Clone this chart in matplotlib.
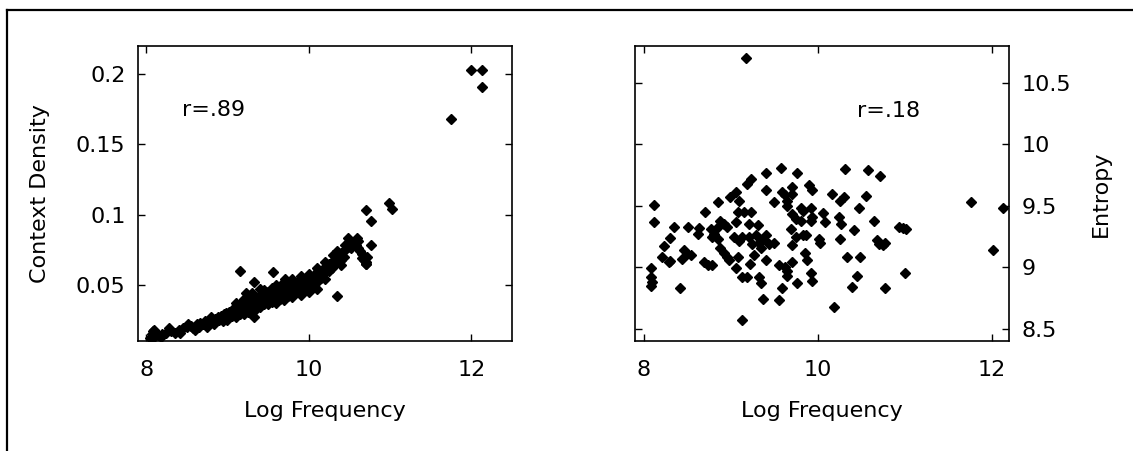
import matplotlib
matplotlib.use("Agg")
import matplotlib.pyplot as plt
from matplotlib.lines import Line2D

# left panel: log frequency vs context density
density_freq = [
    8.05, 8.07, 8.08, 8.10, 8.12, 8.15, 8.20, 8.25, 8.30, 8.35, 8.40, 8.45, 8.50, 8.55,
    8.58, 8.62, 8.66, 8.70, 8.73, 8.77, 8.80, 8.83, 8.85, 8.88, 8.90, 8.92, 8.94, 8.96,
    8.98, 9.00, 9.02, 9.04, 9.06, 9.08, 9.10, 9.12, 9.14, 9.16, 9.18, 9.20, 9.22, 9.24,
    9.26, 9.28, 9.30, 9.32, 9.34, 9.36, 9.38, 9.40, 9.42, 9.44, 9.46, 9.48, 9.50, 9.52,
    9.54, 9.56, 9.58, 9.60, 9.62, 9.64, 9.66, 9.68, 9.70, 9.72, 9.74, 9.76, 9.78, 9.80,
    9.82, 9.84, 9.86, 9.88, 9.90, 9.92, 9.94, 9.96, 9.98, 10.00, 10.02, 10.05, 10.08,
    10.10, 10.12, 10.15, 10.18, 10.20, 10.22, 10.25, 10.28, 10.30, 10.33, 10.35, 10.38,
    10.40, 10.43, 10.45, 10.48, 10.50, 10.52, 10.55, 10.58, 10.60, 10.63, 10.65, 10.68,
    10.70, 10.72,
    8.60, 8.75, 8.95, 9.05, 9.15, 9.25, 9.35, 9.45, 9.50, 9.55, 9.60, 9.65, 9.70, 9.75,
    9.80, 9.85, 9.90, 9.95, 10.00, 10.05, 10.10, 9.45, 9.55, 9.60, 9.70, 9.80, 9.90,
    10.00, 10.10, 10.20, 10.30, 10.35, 9.30, 9.40, 9.20, 10.25, 10.40, 10.15,
    9.00, 9.10, 9.20, 9.30, 9.40, 9.50, 9.60, 9.70, 9.80, 9.90, 10.00, 10.10, 10.20,
    9.10, 9.20, 9.30, 9.40, 9.50, 9.60, 9.70, 9.80, 9.90, 10.00, 10.10, 10.20, 10.30,
    10.40, 10.45, 10.60, 10.65, 10.70, 9.33, 9.71, 9.23, 8.10, 8.18, 8.28, 8.42, 8.52,
    8.65, 8.80,
    12.00, 12.13, 12.13, 11.75, 10.70, 10.77, 10.99, 11.02, 10.77, 10.70, 10.48, 10.59,
    9.16, 9.56, 10.35, 9.33,
]
density = [
    0.012, 0.015, 0.017, 0.013, 0.016, 0.014, 0.015, 0.016, 0.017, 0.016, 0.018, 0.019,
    0.020, 0.021, 0.019, 0.022, 0.023, 0.022, 0.024, 0.023, 0.025, 0.022, 0.026, 0.027,
    0.025, 0.028, 0.026, 0.029, 0.030, 0.027, 0.031, 0.029, 0.032, 0.030, 0.033, 0.031,
    0.034, 0.032, 0.035, 0.033, 0.036, 0.034, 0.037, 0.035, 0.038, 0.036, 0.039, 0.037,
    0.040, 0.035, 0.041, 0.038, 0.042, 0.039, 0.043, 0.040, 0.044, 0.041, 0.045, 0.042,
    0.046, 0.043, 0.047, 0.044, 0.048, 0.045, 0.049, 0.046, 0.050, 0.047, 0.051, 0.048,
    0.052, 0.049, 0.053, 0.050, 0.054, 0.051, 0.055, 0.052, 0.056, 0.054, 0.058, 0.056,
    0.060, 0.058, 0.061, 0.059, 0.063, 0.065, 0.062, 0.067, 0.069, 0.066, 0.071, 0.073,
    0.070, 0.075, 0.077, 0.079, 0.076, 0.080, 0.078, 0.076, 0.074, 0.072, 0.068, 0.065,
    0.070,
    0.018, 0.020, 0.024, 0.028, 0.029, 0.031, 0.033, 0.036, 0.037, 0.038, 0.039, 0.040,
    0.041, 0.042, 0.044, 0.045, 0.046, 0.048, 0.049, 0.050, 0.052, 0.046, 0.048, 0.050,
    0.052, 0.054, 0.056, 0.058, 0.062, 0.066, 0.071, 0.074, 0.044, 0.047, 0.040, 0.060,
    0.064, 0.055,
    0.025, 0.027, 0.029, 0.032, 0.034, 0.036, 0.037, 0.039, 0.041, 0.043, 0.045, 0.047,
    0.054, 0.037, 0.039, 0.041, 0.043, 0.045, 0.047, 0.050, 0.052, 0.054, 0.055, 0.058,
    0.062, 0.064, 0.068, 0.078, 0.081, 0.069, 0.066, 0.052, 0.054, 0.044, 0.018, 0.013,
    0.019, 0.016, 0.022, 0.020, 0.027,
    0.203, 0.203, 0.191, 0.168, 0.103, 0.0955, 0.108, 0.104, 0.078, 0.065, 0.083, 0.083,
    0.060, 0.059, 0.042, 0.027,
]

# right panel: log frequency vs entropy
entropy_freq = [
    8.115, 8.115, 8.085, 8.085, 8.10, 8.08, 8.35, 8.23, 8.30, 8.21, 8.30, 8.415, 8.51,
    8.46, 8.50, 8.54, 8.44, 8.63, 8.62, 8.71, 8.69, 8.74, 8.79, 8.77, 8.81, 8.85, 8.88,
    8.92, 8.96, 8.85, 8.79, 8.85, 8.88, 8.92, 8.96, 8.98, 8.99, 9.06, 9.10, 9.06, 9.06,
    9.08, 9.04, 9.10, 9.13, 9.15, 9.23, 9.13, 9.19, 9.13, 9.19, 9.23, 9.21, 9.25, 9.29,
    9.31, 9.33, 9.37, 9.40, 9.44, 9.50, 9.35, 9.22, 9.33, 9.35, 9.27, 9.37, 9.40, 9.40,
    9.40, 9.50, 9.56, 9.62, 9.65, 9.71, 9.59, 9.56, 9.58, 9.59, 9.65, 9.71, 9.71, 9.65,
    9.71, 9.75, 9.69, 9.65, 9.71, 9.75, 9.83, 9.87, 9.76, 9.76, 9.81, 9.83, 9.81, 9.85,
    9.88, 9.90, 9.94, 9.92, 9.94, 9.92, 9.92, 9.93, 10.02, 10.03, 10.06, 10.08, 10.16,
    10.19, 10.26, 10.30, 10.25, 10.27, 10.26, 10.31, 10.34, 10.42, 10.40, 10.45, 10.47,
    10.49, 10.56, 10.58, 10.65, 10.68, 10.71, 10.75, 10.77, 10.72, 10.77, 10.94, 10.98,
    11.02, 11.00, 11.76, 12.02, 12.13, 9.17, 8.29, 9.21, 9.08, 9.62,
]
entropy = [
    9.51, 9.365, 8.99, 8.92, 8.88, 8.85, 9.33, 9.17, 9.24, 9.08, 9.05, 8.83, 9.33, 9.14,
    9.11, 9.10, 9.07, 9.32, 9.27, 9.45, 9.04, 9.02, 9.02, 9.31, 9.27, 9.33, 9.38, 9.35,
    9.33, 9.23, 9.25, 9.53, 9.16, 9.12, 9.08, 9.06, 9.57, 9.61, 9.54, 9.37, 8.99, 9.08,
    9.25, 9.21, 9.25, 9.45, 9.45, 8.92, 8.92, 8.57, 9.68, 9.72, 9.25, 9.19, 9.26, 9.34,
    9.20, 9.23, 9.26, 9.19, 9.20, 9.16, 9.03, 8.92, 8.87, 9.10, 8.74, 9.77, 9.63, 9.06,
    9.53, 9.02, 9.00, 8.97, 9.04, 8.83, 8.73, 9.81, 9.61, 9.54, 9.65, 9.60, 9.50, 9.43,
    9.39, 9.31, 8.93, 9.18, 9.25, 9.26, 9.26, 9.77, 8.87, 9.48, 9.46, 9.38, 9.12, 9.06,
    9.67, 9.63, 9.48, 9.41, 9.38, 8.95, 8.89, 9.23, 9.20, 9.44, 9.37, 9.60, 8.68, 9.54,
    9.57, 9.41, 9.35, 9.23, 9.80, 9.08, 9.30, 8.84, 8.93, 9.48, 9.08, 9.58, 9.79, 9.38,
    9.22, 9.19, 9.18, 9.20, 9.74, 8.83, 9.33, 9.32, 9.31, 8.95, 9.53, 9.14, 9.48, 10.70,
    9.04, 9.35, 9.45, 9.59,
]

x_ticks = [8, 10, 12]
density_ticks = [0.05, 0.1, 0.15, 0.2]
density_ticklabels = ["0.05", "0.1", "0.15", "0.2"]
entropy_ticks = [8.5, 9, 9.5, 10, 10.5]
entropy_ticklabels = ["8.5", "9", "9.5", "10", "10.5"]

plt.rcParams["font.family"] = ["DejaVu Sans"]
plt.rcParams["font.size"] = 16

fig = plt.figure(figsize=(11.33, 4.51), dpi=100)
ax1 = fig.add_axes([0.1218, 0.2439, 0.3301, 0.6541])
ax2 = fig.add_axes([0.5605, 0.2439, 0.3301, 0.6541])

for ax in (ax1, ax2):
    ax.tick_params(direction="in", length=5, width=1, top=True, bottom=True,
                   left=True, right=True, pad=9, labelsize=16)
    ax.tick_params(axis="x", pad=14)
    for sp in ax.spines.values():
        sp.set_linewidth(1.2)
    ax.set_xticks(x_ticks)
    ax.set_xlabel("Log Frequency", fontsize=16)
    ax.xaxis.set_label_coords(0.5, -0.205)

ax1.plot(density_freq, density, "kD", ms=5.4, mec="k")
ax1.set_xlim(7.9, 12.5)
ax1.set_ylim(0.01, 0.22)
ax1.set_yticks(density_ticks)
ax1.set_yticklabels(density_ticklabels)
ax1.set_ylabel("Context Density", fontsize=16)
ax1.yaxis.set_label_coords(-0.235, 0.5)
ax1.text(8.445, 0.1743, "r=.89", ha="left", va="center", fontsize=16)

ax2.plot(entropy_freq, entropy, "kD", ms=5.4, mec="k")
ax2.set_xlim(7.9, 12.2)
ax2.set_ylim(8.4, 10.8)
ax2.set_yticks(entropy_ticks)
ax2.set_yticklabels(entropy_ticklabels)
ax2.yaxis.tick_right()
ax2.tick_params(left=True, right=True, labelleft=False, labelright=True)
ax2.yaxis.set_label_position("right")
ax2.set_ylabel("Entropy", fontsize=16)
ax2.yaxis.set_label_coords(1.22, 0.5)
ax2.text(10.45, 10.27, "r=.18", ha="left", va="center", fontsize=16)

# frame lines along top and left edge of the picture
fig.add_artist(Line2D([0.0062, 0.0062], [0, 0.978], color="k", lw=1.6, transform=fig.transFigure))
fig.add_artist(Line2D([0.0062, 1.0], [0.978, 0.978], color="k", lw=1.6, transform=fig.transFigure))

fig.savefig("out.png", dpi=100)
